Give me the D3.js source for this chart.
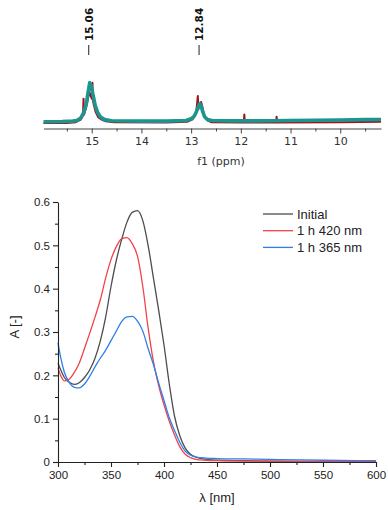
<!DOCTYPE html>
<html>
<head>
<meta charset="utf-8">
<script src="https://cdn.jsdelivr.net/npm/d3@7"></script>
<style>
  body { margin: 0; background: #fff; }
</style>
</head>
<body>
<div id="chart"></div>
<script>
// --- NMR data (ppm, intensity in arbitrary units) ---
var tealPpm = [15.97, 15.6, 15.38, 15.3, 15.22, 15.16, 15.11, 15.07, 15.04, 15.01, 14.97, 14.93, 14.88, 14.82, 14.74, 14.6, 14.0, 13.5, 13.1, 13.0, 12.94, 12.9, 12.86, 12.83, 12.8, 12.77, 12.73, 12.67, 12.58, 12.2, 11.8, 11.4, 11.0, 10.5, 10.0, 9.5, 9.18]
var tealInt = [0.03, 0.035, 0.045, 0.06, 0.12, 0.25, 0.45, 0.75, 0.96, 0.88, 0.65, 0.42, 0.25, 0.14, 0.08, 0.055, 0.045, 0.045, 0.06, 0.1, 0.16, 0.25, 0.38, 0.46, 0.42, 0.28, 0.15, 0.08, 0.06, 0.05, 0.05, 0.055, 0.06, 0.065, 0.07, 0.08, 0.085]

var redPpm = [15.97, 15.5, 15.32, 15.22, 15.175, 15.165, 15.155, 15.11, 15.07, 15.04, 15.0, 14.985, 14.975, 14.96, 14.92, 14.87, 14.8, 14.72, 14.55, 13.5, 13.08, 12.97, 12.9, 12.865, 12.855, 12.84, 12.8, 12.78, 12.74, 12.68, 12.6, 12.0, 11.94, 11.93, 11.92, 11.29, 11.28, 11.27, 10.0, 9.18]
var redInt = [0, 0, 0.02, 0.08, 0.18, 0.58, 0.2, 0.38, 0.62, 0.72, 0.58, 0.96, 0.55, 0.44, 0.26, 0.14, 0.08, 0.04, 0.015, 0.01, 0.03, 0.09, 0.22, 0.64, 0.32, 0.4, 0.5, 0.42, 0.18, 0.07, 0.02, 0.01, 0.01, 0.2, 0.01, 0.01, 0.15, 0.01, 0.02, 0.03]

var peakLabels = [15.06, 12.84]
var nmrTicks = [15, 14, 13, 12, 11, 10]
var nmrMinorTicks = [15.5, 14.5, 13.5, 12.5, 11.5, 10.5, 9.5]

// --- UV-Vis data ---
var wavelengths = [300, 303, 306, 310, 315, 320, 325, 330, 335, 340, 345, 350, 355, 360, 365, 370, 375, 380, 385, 390, 395, 400, 405, 410, 415, 420, 425, 430, 440, 450, 475, 500, 550, 600]
var initialA = [0.228, 0.210, 0.195, 0.185, 0.179, 0.183, 0.195, 0.213, 0.240, 0.280, 0.335, 0.405, 0.465, 0.513, 0.553, 0.576, 0.580, 0.557, 0.500, 0.425, 0.350, 0.270, 0.180, 0.105, 0.060, 0.032, 0.018, 0.011, 0.006, 0.004, 0.003, 0.002, 0.001, 0.001]
var red420A = [0.216, 0.197, 0.187, 0.190, 0.205, 0.228, 0.262, 0.298, 0.335, 0.375, 0.425, 0.467, 0.497, 0.515, 0.518, 0.504, 0.475, 0.405, 0.310, 0.232, 0.176, 0.132, 0.094, 0.062, 0.035, 0.018, 0.010, 0.006, 0.004, 0.003, 0.002, 0.002, 0.001, 0.001]
var blue365A = [0.275, 0.236, 0.207, 0.186, 0.173, 0.171, 0.180, 0.198, 0.220, 0.240, 0.258, 0.280, 0.302, 0.324, 0.335, 0.336, 0.325, 0.302, 0.262, 0.225, 0.182, 0.142, 0.102, 0.072, 0.045, 0.025, 0.016, 0.012, 0.009, 0.008, 0.007, 0.006, 0.004, 0.003]

var seriesNames = ["Initial", "1 h 420 nm", "1 h 365 nm"]
var seriesColors = ["#4d4d4d", "#f0434a", "#2f7fe8"]
var xTicks = [300, 350, 400, 450, 500, 550, 600]
var xMinorTicks = [325, 375, 425, 475, 525, 575]
var yTicks = [0, 0.1, 0.2, 0.3, 0.4, 0.5, 0.6]
var yMinorTicks = [0.05, 0.15, 0.25, 0.35, 0.45, 0.55]

var svg = d3.select("#chart")
  .append("svg")
  .attr("width", 388)
  .attr("height", 510)

// ================= NMR panel =================
var nmrFont = "DejaVu Sans, Verdana, sans-serif"

var xN = d3.scaleLinear().domain([15.97, 9.18]).range([43.5, 381])
var yN = d3.scaleLinear().domain([0, 1]).range([123, 81])

var nmrLine = d3.line()
  .x(d => xN(d[0]))
  .y(d => yN(d[1]))

svg.append("path")
  .datum(redPpm.map((p, i) => [p, redInt[i]]))
  .attr("d", nmrLine)
  .attr("fill", "none")
  .attr("stroke", "#a3121a")
  .attr("stroke-width", 2)
  .attr("stroke-linejoin", "round")

svg.append("path")
  .datum(tealPpm.map((p, i) => [p, tealInt[i]]))
  .attr("d", nmrLine)
  .attr("fill", "none")
  .attr("stroke", "#1b9590")
  .attr("stroke-width", 3.6)
  .attr("stroke-linejoin", "round")

var nmrAxis = svg.append("g")
  .attr("transform", "translate(0,128.5)")
  .call(d3.axisBottom(xN).tickValues(nmrTicks).tickSize(5).tickSizeOuter(0).tickPadding(4).tickFormat(d3.format("d")))
nmrAxis.selectAll("text").attr("font-family", nmrFont).attr("font-size", 11).attr("fill", "#333")
nmrAxis.selectAll("line, path").attr("stroke", "#444")

var nmrMinor = svg.append("g")
  .attr("transform", "translate(0,128.5)")
  .call(d3.axisBottom(xN).tickValues(nmrMinorTicks).tickSize(3).tickFormat(""))
nmrMinor.select(".domain").remove()
nmrMinor.selectAll("line").attr("stroke", "#444")

svg.append("text")
  .attr("x", 221)
  .attr("y", 165)
  .attr("text-anchor", "middle")
  .attr("font-family", nmrFont)
  .attr("font-size", 11)
  .attr("fill", "#333")
  .text("f1 (ppm)")

// peak labels
svg.selectAll(".peakline")
  .data(peakLabels)
  .enter()
  .append("line")
  .attr("class", "peakline")
  .attr("x1", d => xN(d))
  .attr("x2", d => xN(d))
  .attr("y1", 45)
  .attr("y2", 55)
  .attr("stroke", "#222")
  .attr("stroke-width", 1)

svg.selectAll(".peaklabel")
  .data(peakLabels)
  .enter()
  .append("text")
  .attr("class", "peaklabel")
  .attr("transform", d => `translate(${xN(d)},41) rotate(-90)`)
  .attr("dy", "0.36em")
  .attr("font-family", nmrFont)
  .attr("font-weight", "bold")
  .attr("font-size", 10.5)
  .attr("fill", "#111")
  .text(d => d.toFixed(2))

// ================= UV-Vis panel =================
var uvFont = "Liberation Sans, Arial, sans-serif"

var x = d3.scaleLinear().domain([300, 600]).range([58, 376])
var y = d3.scaleLinear().domain([0, 0.6]).range([462, 202])

var uvLine = d3.line()
  .x(d => x(d[0]))
  .y(d => y(d[1]))
  .curve(d3.curveMonotoneX)

var allSeries = [initialA, red420A, blue365A]

svg.selectAll(".uvline")
  .data(allSeries)
  .enter()
  .append("path")
  .attr("class", "uvline")
  .attr("d", s => uvLine(wavelengths.map((w, i) => [w, s[i]])))
  .attr("fill", "none")
  .attr("stroke", (d, i) => seriesColors[i])
  .attr("stroke-width", 1.3)

// axes
var xaxis = svg.append("g")
  .attr("transform", "translate(0,462)")
  .call(d3.axisBottom(x).tickValues(xTicks).tickSize(5).tickSizeOuter(0).tickPadding(4).tickFormat(d3.format("d")))
var xminor = svg.append("g")
  .attr("transform", "translate(0,462)")
  .call(d3.axisBottom(x).tickValues(xMinorTicks).tickSize(3).tickFormat(""))
xminor.select(".domain").remove()

var yaxis = svg.append("g")
  .attr("transform", "translate(58,0)")
  .call(d3.axisLeft(y).tickValues(yTicks).tickSize(5).tickSizeOuter(0).tickPadding(3)
    .tickFormat(d => d === 0 ? "0" : d3.format(".1f")(d)))
var yminor = svg.append("g")
  .attr("transform", "translate(58,0)")
  .call(d3.axisLeft(y).tickValues(yMinorTicks).tickSize(3).tickFormat(""))
yminor.select(".domain").remove()

;[xaxis, xminor, yaxis, yminor].forEach(g => {
  g.selectAll("line, path").attr("stroke", "#222").attr("stroke-width", 1.1)
  g.selectAll("text").attr("font-family", uvFont).attr("font-size", 11.5).attr("fill", "#222")
})

// axis labels
svg.append("text")
  .attr("x", 217)
  .attr("y", 502)
  .attr("text-anchor", "middle")
  .attr("font-family", uvFont)
  .attr("font-size", 13)
  .attr("fill", "#222")
  .text("λ [nm]")

svg.append("text")
  .attr("transform", "translate(19,327) rotate(-90)")
  .attr("text-anchor", "middle")
  .attr("font-family", uvFont)
  .attr("font-size", 13)
  .attr("fill", "#222")
  .text("A [-]")

// legend
var legend = svg.selectAll(".legend")
  .data(seriesNames)
  .enter()
  .append("g")
  .attr("class", "legend")
  .attr("transform", (d, i) => `translate(263,${214 + i * 16.7})`)

legend.append("line")
  .attr("x1", 0)
  .attr("x2", 30)
  .attr("stroke", (d, i) => seriesColors[i])
  .attr("stroke-width", 1.3)

legend.append("text")
  .attr("x", 34)
  .attr("dy", "0.36em")
  .attr("font-family", uvFont)
  .attr("font-size", 13)
  .attr("fill", "#222")
  .text(d => d)
</script>
</body>
</html>
